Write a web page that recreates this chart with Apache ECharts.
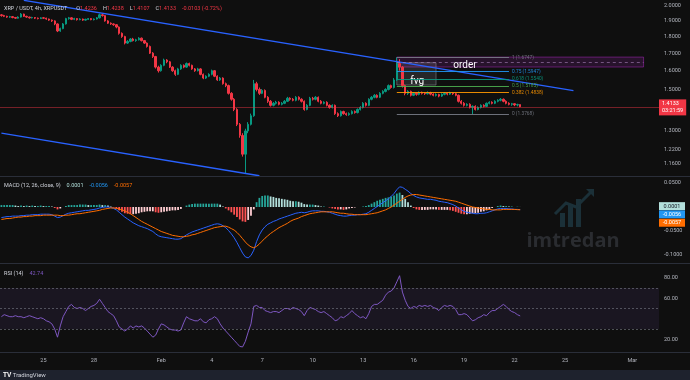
<!DOCTYPE html>
<html><head><meta charset="utf-8">
<script src="https://cdn.jsdelivr.net/npm/echarts@6/dist/echarts.min.js"></script>
<style>html,body{margin:0;padding:0;background:#0f0f0f;}#c{width:690px;height:380px;}</style>
</head><body><div id="c"></div>
<script>
// ---------- DATA ----------
const slotCount = 235; // 4h slots on the time axis (Jan 22 12:00 .. Mar 2)
const xTickSlots = [15, 33, 57, 75, 93, 111, 129, 147, 165, 183, 201, 225];
const xTickLabels = ['25', '28', 'Feb', '4', '7', '10', '13', '16', '19', '22', '25', 'Mar'];
const priceTicks = [2.0, 1.9, 1.8, 1.7, 1.6, 1.5, 1.3, 1.22, 1.16];
const macdTicks = [0.05, -0.05, -0.1];
const rsiTicks = [80, 60, 20];

// [open, close, low, high]
const candles = [
[1.940,1.935,1.928,1.945],[1.935,1.930,1.925,1.940],[1.930,1.925,1.920,1.934],[1.925,1.928,1.920,1.933],
[1.928,1.922,1.917,1.932],[1.922,1.918,1.913,1.926],[1.918,1.925,1.915,1.930],[1.925,1.945,1.922,1.952],
[1.945,1.930,1.926,1.948],[1.930,1.925,1.920,1.934],[1.925,1.920,1.915,1.928],[1.920,1.922,1.916,1.927],
[1.922,1.918,1.912,1.925],[1.918,1.915,1.910,1.922],[1.915,1.920,1.912,1.924],[1.920,1.918,1.913,1.925],
[1.918,1.912,1.907,1.921],[1.912,1.905,1.900,1.915],[1.905,1.900,1.893,1.909],[1.900,1.880,1.872,1.904],
[1.880,1.835,1.828,1.884],[1.835,1.850,1.830,1.856],[1.850,1.880,1.846,1.886],[1.880,1.915,1.876,1.920],
[1.915,1.920,1.908,1.926],[1.920,1.910,1.905,1.924],[1.910,1.915,1.905,1.920],[1.915,1.908,1.902,1.918],
[1.908,1.912,1.904,1.917],[1.912,1.905,1.900,1.915],[1.905,1.910,1.901,1.914],[1.910,1.915,1.906,1.919],
[1.915,1.908,1.904,1.918],[1.908,1.912,1.903,1.916],[1.912,1.920,1.909,1.925],[1.920,1.940,1.916,1.948],
[1.940,1.935,1.928,1.946],[1.935,1.900,1.895,1.938],[1.900,1.885,1.880,1.905],[1.885,1.880,1.874,1.890],
[1.880,1.875,1.868,1.884],[1.875,1.860,1.852,1.879],[1.860,1.820,1.812,1.864],[1.820,1.800,1.792,1.826],
[1.800,1.760,1.752,1.805],[1.760,1.770,1.755,1.778],[1.770,1.785,1.765,1.790],[1.785,1.775,1.770,1.792],
[1.775,1.780,1.768,1.786],[1.780,1.790,1.776,1.796],[1.790,1.775,1.770,1.794],[1.775,1.760,1.755,1.779],
[1.760,1.740,1.733,1.764],[1.740,1.700,1.695,1.745],[1.700,1.680,1.672,1.706],[1.680,1.620,1.612,1.684],
[1.620,1.600,1.590,1.628],[1.600,1.630,1.595,1.636],[1.630,1.660,1.625,1.668],[1.660,1.650,1.642,1.665],
[1.650,1.620,1.615,1.655],[1.620,1.600,1.594,1.625],[1.600,1.580,1.572,1.606],[1.580,1.610,1.576,1.616],
[1.610,1.630,1.605,1.636],[1.630,1.620,1.614,1.635],[1.620,1.640,1.616,1.646],[1.640,1.630,1.624,1.645],
[1.630,1.610,1.605,1.634],[1.610,1.600,1.594,1.615],[1.600,1.610,1.596,1.616],[1.610,1.580,1.575,1.614],
[1.580,1.560,1.554,1.585],[1.560,1.570,1.555,1.575],[1.570,1.580,1.565,1.586],[1.580,1.600,1.575,1.606],
[1.600,1.570,1.565,1.604],[1.570,1.550,1.545,1.575],[1.550,1.560,1.545,1.566],[1.560,1.530,1.525,1.564],
[1.530,1.520,1.512,1.536],[1.520,1.480,1.474,1.525],[1.480,1.450,1.443,1.486],[1.450,1.400,1.392,1.456],
[1.400,1.330,1.322,1.406],[1.330,1.280,1.270,1.336],[1.280,1.200,1.190,1.290],[1.200,1.300,1.124,1.310],
[1.300,1.330,1.290,1.340],[1.330,1.370,1.325,1.380],[1.370,1.530,1.365,1.550],[1.530,1.500,1.490,1.540],
[1.500,1.480,1.472,1.510],[1.480,1.495,1.476,1.502],[1.495,1.460,1.455,1.500],[1.460,1.440,1.432,1.466],
[1.440,1.420,1.414,1.446],[1.420,1.430,1.415,1.436],[1.430,1.435,1.424,1.442],[1.435,1.425,1.420,1.440],
[1.425,1.430,1.420,1.436],[1.430,1.440,1.426,1.446],[1.440,1.455,1.436,1.462],[1.455,1.450,1.443,1.460],
[1.450,1.445,1.440,1.456],[1.445,1.460,1.440,1.466],[1.460,1.450,1.444,1.465],[1.450,1.440,1.434,1.455],
[1.440,1.400,1.394,1.444],[1.400,1.420,1.396,1.426],[1.420,1.455,1.416,1.462],[1.455,1.450,1.444,1.462],
[1.450,1.460,1.445,1.466],[1.460,1.440,1.435,1.464],[1.440,1.430,1.425,1.446],[1.430,1.435,1.425,1.440],
[1.435,1.420,1.415,1.440],[1.420,1.410,1.404,1.425],[1.410,1.420,1.405,1.425],[1.420,1.380,1.374,1.424],
[1.380,1.370,1.364,1.386],[1.370,1.390,1.366,1.395],[1.390,1.380,1.375,1.394],[1.380,1.375,1.370,1.385],
[1.375,1.380,1.370,1.386],[1.380,1.390,1.376,1.396],[1.390,1.385,1.380,1.395],[1.385,1.400,1.381,1.405],
[1.400,1.410,1.395,1.416],[1.410,1.430,1.405,1.436],[1.430,1.420,1.414,1.435],[1.420,1.450,1.416,1.455],
[1.450,1.460,1.445,1.466],[1.460,1.470,1.455,1.476],[1.470,1.460,1.455,1.475],[1.460,1.480,1.456,1.486],
[1.480,1.490,1.475,1.496],[1.490,1.500,1.485,1.506],[1.500,1.520,1.495,1.526],[1.520,1.510,1.504,1.525],
[1.510,1.550,1.505,1.560],[1.550,1.640,1.545,1.6747],[1.640,1.620,1.600,1.665],[1.620,1.520,1.510,1.625],
[1.520,1.480,1.470,1.525],[1.480,1.490,1.472,1.496],[1.490,1.470,1.464,1.494],[1.470,1.480,1.466,1.486],
[1.480,1.475,1.468,1.484],[1.475,1.485,1.470,1.490],[1.485,1.480,1.474,1.489],[1.480,1.478,1.472,1.486],
[1.478,1.484,1.474,1.490],[1.484,1.476,1.470,1.488],[1.476,1.470,1.465,1.480],[1.470,1.474,1.464,1.480],
[1.474,1.466,1.460,1.478],[1.466,1.475,1.462,1.480],[1.475,1.480,1.470,1.486],[1.480,1.476,1.470,1.485],
[1.476,1.482,1.472,1.488],[1.482,1.478,1.472,1.486],[1.478,1.470,1.465,1.482],[1.470,1.440,1.434,1.474],
[1.440,1.430,1.424,1.446],[1.430,1.420,1.414,1.436],[1.420,1.425,1.415,1.430],[1.425,1.410,1.405,1.430],
[1.410,1.415,1.377,1.420],[1.415,1.400,1.395,1.420],[1.400,1.410,1.396,1.415],[1.410,1.420,1.405,1.425],
[1.420,1.415,1.410,1.425],[1.415,1.430,1.412,1.434],[1.430,1.435,1.425,1.440],[1.435,1.430,1.425,1.440],
[1.430,1.440,1.426,1.445],[1.440,1.445,1.435,1.450],[1.445,1.450,1.440,1.456],[1.450,1.440,1.435,1.454],
[1.440,1.430,1.425,1.445],[1.430,1.425,1.420,1.435],[1.425,1.428,1.418,1.432],[1.428,1.422,1.416,1.430],
[1.422,1.4236,1.415,1.428],[1.4236,1.4133,1.4107,1.4238]
];

const macdLine = [
-0.022,-0.021,-0.020,-0.020,-0.019,-0.019,-0.019,-0.018,-0.018,-0.017,-0.017,-0.016,-0.016,-0.016,-0.015,-0.015,
-0.015,-0.015,-0.016,-0.019,-0.022,-0.021,-0.018,-0.015,-0.013,-0.012,-0.011,-0.010,-0.009,-0.008,-0.007,-0.007,
-0.006,-0.005,-0.004,-0.002,-0.001,0.000,0.000,-0.001,-0.003,-0.006,-0.011,-0.016,-0.021,-0.025,-0.029,-0.033,
-0.036,-0.039,-0.041,-0.043,-0.045,-0.048,-0.051,-0.056,-0.060,-0.062,-0.063,-0.064,-0.065,-0.066,-0.067,-0.067,
-0.066,-0.062,-0.058,-0.055,-0.052,-0.050,-0.048,-0.046,-0.044,-0.042,-0.040,-0.038,-0.036,-0.035,-0.036,-0.039,
-0.043,-0.049,-0.056,-0.064,-0.074,-0.085,-0.096,-0.104,-0.106,-0.101,-0.090,-0.072,-0.058,-0.048,-0.041,-0.036,
-0.033,-0.030,-0.028,-0.025,-0.023,-0.021,-0.019,-0.017,-0.015,-0.013,-0.012,-0.011,-0.012,-0.011,-0.009,-0.008,
-0.008,-0.008,-0.009,-0.009,-0.010,-0.011,-0.013,-0.015,-0.017,-0.018,-0.019,-0.019,-0.018,-0.017,-0.017,-0.016,
-0.016,-0.015,-0.014,-0.011,-0.007,-0.003,0.001,0.005,0.009,0.013,0.017,0.022,0.028,0.036,0.042,0.041,
0.037,0.033,0.028,0.024,0.021,0.019,0.018,0.017,0.016,0.016,0.015,0.014,0.012,0.011,0.010,0.009,
0.007,0.005,0.002,-0.002,-0.006,-0.009,-0.011,-0.012,-0.013,-0.014,-0.014,-0.013,-0.013,-0.012,-0.010,-0.008,
-0.006,-0.004,-0.003,-0.003,-0.003,-0.004,-0.004,-0.005,-0.005,-0.0056
];

const signalLine = [
-0.026,-0.025,-0.024,-0.024,-0.023,-0.022,-0.021,-0.021,-0.020,-0.020,-0.019,-0.019,-0.018,-0.018,-0.018,-0.017,
-0.017,-0.017,-0.017,-0.017,-0.017,-0.018,-0.018,-0.017,-0.017,-0.016,-0.015,-0.014,-0.014,-0.013,-0.012,-0.011,
-0.010,-0.009,-0.008,-0.007,-0.005,-0.004,-0.003,-0.002,-0.002,-0.003,-0.004,-0.006,-0.008,-0.011,-0.014,-0.018,
-0.022,-0.026,-0.030,-0.033,-0.036,-0.039,-0.042,-0.045,-0.048,-0.051,-0.053,-0.055,-0.057,-0.059,-0.060,-0.061,
-0.062,-0.062,-0.061,-0.060,-0.058,-0.057,-0.055,-0.053,-0.051,-0.049,-0.047,-0.045,-0.043,-0.042,-0.041,-0.040,
-0.040,-0.042,-0.045,-0.048,-0.053,-0.059,-0.066,-0.073,-0.079,-0.083,-0.085,-0.082,-0.077,-0.071,-0.065,-0.060,
-0.055,-0.051,-0.047,-0.043,-0.040,-0.037,-0.034,-0.030,-0.027,-0.025,-0.023,-0.020,-0.018,-0.016,-0.014,-0.013,
-0.012,-0.011,-0.010,-0.010,-0.010,-0.010,-0.010,-0.011,-0.012,-0.013,-0.013,-0.014,-0.015,-0.015,-0.016,-0.016,
-0.016,-0.016,-0.016,-0.015,-0.014,-0.013,-0.012,-0.010,-0.008,-0.006,-0.003,0.000,0.004,0.008,0.012,0.016,
0.020,0.023,0.025,0.026,0.026,0.025,0.024,0.023,0.022,0.021,0.020,0.019,0.018,0.017,0.016,0.015,
0.014,0.013,0.012,0.010,0.008,0.006,0.004,0.002,0.000,-0.001,-0.002,-0.003,-0.004,-0.005,-0.005,-0.006,
-0.006,-0.006,-0.006,-0.005,-0.005,-0.005,-0.005,-0.005,-0.0055,-0.0057
];

const rsiLine = [
42,44,43,42,42,43,42,42,41,42,43,42,41,40,41,40,38,37,35,30,22,33,42,47,52,54,51,50,51,50,48,50,
52,53,55,59,55,51,47,45,43,38,32,30,28,30,33,31,33,32,33,31,28,25,22,24,30,35,34,32,30,29,29,28,
29,36,42,40,39,38,38,40,37,36,39,40,42,40,35,31,28,25,22,19,16,13,12.5,18,27,35,52,53,51,51,48,47,
46,47,47,46,48,50,50,49,51,50,49,47,43,48,51,50,49,47,46,47,45,43,41,38,39,42,41,43,45,48,45,43,
41,42,40,45,52,54,54,56,58,63,66,67,70,76,82,66,58,52,50,52,51,53,52,53,52,53,51,50,48,51,53,52,
53,52,49,44,44,45,44,41,38,39,41,42,44,43,46,48,48,50,52,54,52,49,47,46,44,42.74
];

const fibRatios = ['1', '0.75', '0.618', '0.5', '0.382', '0'];
const fibPrices = [1.6747, 1.5947, 1.5540, 1.5185, 1.4838, 1.3768];
const fibSpan = [141, 181];                 // slots
const trendUpper = [[8, 2.0397], [204, 1.4935]];   // [slot, price]
const trendLower = [[0, 1.290], [92, 1.114]];
const orderBox = [[141, 1.677], [229, 1.6206], 1.6485]; // corners + mid dashed level
const fvgBox = [[141, 1.6448], [155, 1.523]];
const countdown = '03:21:59';

// ---------- CHART ----------
const categories = Array.from({length: slotCount}, (_, i) => String(i));
const last = candles[candles.length - 1];
const prevClose = candles[candles.length - 2][1];
const lastPrice = last[1];
const hist = macdLine.map((m, i) => +(m - signalLine[i]).toFixed(5));
const histData = hist.map((h, i) => {
  const p = i > 0 ? hist[i - 1] : h;
  let col;
  if (h >= 0) col = h >= p ? '#26a69a' : '#b2dfdb';
  else col = h < p ? '#ff5252' : '#ffcdd2';
  return {value: h, itemStyle: {color: col}};
});

const FONT = 'Roboto, "Liberation Sans", sans-serif';
const AX = '#b2b5be';
const GREEN = '#089981', RED = '#f23645';
const fibColors = ['#787b86', '#2196f3', '#089981', '#4caf50', '#ff9800', '#787b86'];
const L = 0, R = 31;

const chart = echarts.init(document.getElementById('c'), null, {renderer: 'canvas'});

function xAxisFor(idx, showLabels) {
  return {
    type: 'category', gridIndex: idx, data: categories, boundaryGap: true,
    axisLine: {show: false}, axisTick: {show: false}, splitLine: {show: false},
    axisLabel: showLabels ? {
      show: true, color: AX, fontSize: 5.5, fontFamily: FONT, margin: 6,
      interval: (i) => xTickSlots.indexOf(i) >= 0,
      formatter: (v, i) => { const k = xTickSlots.indexOf(Number(v)); return k >= 0 ? xTickLabels[k] : ''; }
    } : {show: false}
  };
}

const option = {
  backgroundColor: '#0f0f0f',
  animation: false,
  textStyle: {fontFamily: FONT},
  grid: [
    {left: L, right: R, top: 0, height: 176},
    {left: L, right: R, top: 177, height: 86},
    {left: L, right: R, top: 264, height: 88}
  ],
  xAxis: [xAxisFor(0, false), xAxisFor(1, false), xAxisFor(2, true)],
  yAxis: [
    {type: 'log', logBase: 10, gridIndex: 0, position: 'right', min: 1.113, max: 2.0418,
     axisLine: {show: false}, axisTick: {show: false}, splitLine: {show: false},
     axisLabel: {customValues: priceTicks, formatter: (v) => Number(v).toFixed(4), color: AX, fontSize: 5.5, margin: 5, align: 'left', fontFamily: FONT}},
    {type: 'value', gridIndex: 1, position: 'right', min: -0.11667, max: 0.0625,
     axisLine: {show: false}, axisTick: {show: false}, splitLine: {show: false},
     axisLabel: {customValues: macdTicks, formatter: (v) => Number(v).toFixed(4), color: AX, fontSize: 5.5, margin: 5, align: 'left', fontFamily: FONT}},
    {type: 'value', gridIndex: 2, position: 'right', min: 7.56, max: 93.41,
     axisLine: {show: false}, axisTick: {show: false}, splitLine: {show: false},
     axisLabel: {customValues: rsiTicks, formatter: (v) => Number(v).toFixed(2), color: AX, fontSize: 5.5, margin: 5, align: 'left', fontFamily: FONT}}
  ],
  series: [
    {
      type: 'candlestick', xAxisIndex: 0, yAxisIndex: 0, data: candles, barWidth: 1.8,
      itemStyle: {color: GREEN, color0: RED, borderColor: GREEN, borderColor0: RED, borderWidth: 1},
      markArea: {
        silent: true,
        data: [
          [{coord: [String(orderBox[0][0]), orderBox[0][1]], name: 'order',
            itemStyle: {color: 'rgba(156,39,176,0.18)', borderColor: 'rgba(156,39,176,0.55)', borderWidth: 1},
            label: {show: true, position: [57, 4], color: '#ffffff', fontSize: 10, fontFamily: FONT}},
           {coord: [String(orderBox[1][0]), orderBox[1][1]]}],
          [{coord: [String(fvgBox[0][0]), fvgBox[0][1]], name: 'fvg',
            itemStyle: {color: 'rgba(160,163,174,0.16)', borderColor: 'rgba(160,163,174,0.45)', borderWidth: 1},
            label: {show: true, position: [14, 14], color: '#ffffff', fontSize: 10, fontFamily: FONT}},
           {coord: [String(fvgBox[1][0]), fvgBox[1][1]]}]
        ]
      },
      markLine: {
        silent: true, symbol: ['none', 'none'],
        data: [
          ...fibPrices.map((p, k) => [
            {coord: [String(fibSpan[0]), p], lineStyle: {color: fibColors[k], width: 1.2, type: 'solid', opacity: 0.9},
             label: {show: true, position: 'end', distance: 3, formatter: fibRatios[k] + ' (' + p.toFixed(4) + ')', color: fibColors[k], fontSize: 4.8, fontFamily: FONT}},
            {coord: [String(fibSpan[1]), p]}
          ]),
          [{coord: [String(orderBox[0][0]), orderBox[2]], lineStyle: {color: 'rgba(180,140,200,0.55)', width: 1, type: [3, 3]}, label: {show: false}},
           {coord: [String(orderBox[1][0]), orderBox[2]]}],
          {yAxis: lastPrice, lineStyle: {color: 'rgba(242,54,69,0.45)', width: 1, type: 'solid'},
           label: {show: true, position: 'end', distance: 0, formatter: lastPrice.toFixed(4) + '\n' + countdown,
                   backgroundColor: RED, color: '#ffffff', fontSize: 5.5, lineHeight: 7, padding: [1, 3, 1, 3], fontFamily: FONT}}
        ]
      }
    },
    {type: 'line', xAxisIndex: 0, yAxisIndex: 0, data: trendUpper.map(p => [String(p[0]), p[1]]),
     symbol: 'none', lineStyle: {color: '#2962ff', width: 1.3}, silent: true, z: 4},
    {type: 'line', xAxisIndex: 0, yAxisIndex: 0, data: trendLower.map(p => [String(p[0]), p[1]]),
     symbol: 'none', lineStyle: {color: '#2962ff', width: 1.3}, silent: true, z: 4},
    {type: 'bar', xAxisIndex: 1, yAxisIndex: 1, data: histData, barWidth: 1.8, silent: true},
    {type: 'line', xAxisIndex: 1, yAxisIndex: 1, data: macdLine, symbol: 'none', lineStyle: {color: '#2962ff', width: 1}, silent: true},
    {type: 'line', xAxisIndex: 1, yAxisIndex: 1, data: signalLine, symbol: 'none', lineStyle: {color: '#ff6d00', width: 1}, silent: true},
    {type: 'line', xAxisIndex: 2, yAxisIndex: 2, data: rsiLine, symbol: 'none', lineStyle: {color: '#7e57c2', width: 1}, silent: true,
     markArea: {silent: true, itemStyle: {color: 'rgba(126,87,194,0.1)'}, data: [[{yAxis: 30}, {yAxis: 70}]]},
     markLine: {silent: true, symbol: ['none', 'none'],
       lineStyle: {color: 'rgba(120,123,134,0.6)', type: [2, 2], width: 1}, label: {show: false},
       data: [{yAxis: 70}, {yAxis: 50}, {yAxis: 30},
              {yAxis: rsiLine[rsiLine.length - 1], lineStyle: {opacity: 0},
               label: {show: true, position: 'end', distance: 0, formatter: rsiLine[rsiLine.length - 1].toFixed(2),
                       backgroundColor: '#7e57c2', color: '#ffffff', fontSize: 5.5, padding: [1, 3, 1, 3], fontFamily: FONT}}]}}
  ]
};
chart.setOption(option);

// ---------- overlay texts ----------
const fmt = (v) => (v >= 0 ? '' : '-') + Math.abs(v).toFixed(4);
const lastHist = hist[hist.length - 1], lastMacd = macdLine[macdLine.length - 1], lastSig = signalLine[signalLine.length - 1];
const yHist = chart.convertToPixel({yAxisIndex: 1}, lastHist);
const gx = 690 - R;
function valBox(y, txt, bg, fg) {
  return {type: 'group', x: gx, y: y - 4, children: [
    {type: 'rect', shape: {x: 0, y: 0, width: 26, height: 8}, style: {fill: bg}},
    {type: 'text', x: 13, y: 4, style: {text: txt, fill: fg, fontSize: 5.5, fontFamily: FONT, align: 'center', verticalAlign: 'middle'}}
  ]};
}
const chg = lastPrice - prevClose;
const graphics = [
  {type: 'rect', shape: {x: 0, y: 176, width: 690, height: 1}, style: {fill: '#2a2e39'}, z: 10},
  {type: 'rect', shape: {x: 0, y: 263, width: 690, height: 1}, style: {fill: '#2a2e39'}, z: 10},
  {type: 'rect', shape: {x: 0, y: 352, width: 690, height: 1}, style: {fill: '#2a2e39'}, z: 10},
  {type: 'rect', shape: {x: 0, y: 370, width: 690, height: 10}, style: {fill: '#1e222d'}, z: 10},
  {type: 'text', x: 3, y: 375, z: 11, style: {text: '{b|TV} TradingView', fill: '#d1d4dc', fontSize: 6, fontFamily: FONT, verticalAlign: 'middle',
     rich: {b: {fontWeight: 'bold', fontSize: 6.5, fill: '#ffffff'}}}},
  {type: 'text', x: 4, y: 8.5, z: 11, style: {
     text: '{g|XRP / USDT, 4h, XRPUSDT}   {g|O}{r|' + last[0].toFixed(4) + '}  {g|H}{r|' + last[3].toFixed(4) + '}  {g|L}{r|' + last[2].toFixed(4) + '}  {g|C}{r|' + last[1].toFixed(4) + '}  {r|' + fmt(chg) + ' (' + (chg / prevClose * 100).toFixed(2) + '%)}',
     verticalAlign: 'middle', fontFamily: FONT,
     rich: {g: {fill: '#d1d4dc', fontSize: 5.5, fontFamily: FONT}, r: {fill: RED, fontSize: 5.5, fontFamily: FONT}}}},
  {type: 'text', x: 4, y: 186, z: 11, style: {
     text: '{g|MACD (12, 26, close, 9)}  {h|' + fmt(lastHist) + '}  {m|' + fmt(lastMacd) + '}  {s|' + fmt(lastSig) + '}',
     verticalAlign: 'middle', fontFamily: FONT,
     rich: {g: {fill: '#d1d4dc', fontSize: 5.5, fontFamily: FONT}, h: {fill: '#b2dfdb', fontSize: 5.5, fontFamily: FONT},
            m: {fill: '#2196f3', fontSize: 5.5, fontFamily: FONT}, s: {fill: '#ff6d00', fontSize: 5.5, fontFamily: FONT}}}},
  {type: 'text', x: 4, y: 273.5, z: 11, style: {
     text: '{g|RSI (14)}  {p|' + rsiLine[rsiLine.length - 1].toFixed(2) + '}', verticalAlign: 'middle', fontFamily: FONT,
     rich: {g: {fill: '#d1d4dc', fontSize: 5.5, fontFamily: FONT}, p: {fill: '#7e57c2', fontSize: 5.5, fontFamily: FONT}}}},
  valBox(yHist - 0.8, fmt(lastHist), '#b2dfdb', '#131722'),
  valBox(yHist + 7.4, fmt(lastMacd), '#2196f3', '#ffffff'),
  valBox(yHist + 15.8, fmt(lastSig), '#ff6d00', '#ffffff'),
  // watermark
  {type: 'text', x: 573, y: 241, z: 1, style: {text: 'imtredan', fill: '#2a2c30', fontSize: 20, fontWeight: 'bold', fontFamily: '"Open Sans", sans-serif', align: 'center', verticalAlign: 'middle'}},
  {type: 'group', z: 1, children: [
    {type: 'rect', shape: {x: 560, y: 213, width: 5, height: 14}, style: {fill: '#1b3038'}},
    {type: 'rect', shape: {x: 568, y: 205, width: 5, height: 22}, style: {fill: '#1b3038'}},
    {type: 'rect', shape: {x: 576, y: 199, width: 5, height: 28}, style: {fill: '#1b3038'}},
    {type: 'polyline', shape: {points: [[555, 214], [566, 203], [576, 207], [592, 191]]}, style: {stroke: '#1b3038', lineWidth: 3, fill: null}},
    {type: 'polygon', shape: {points: [[586, 189], [594, 189], [594, 197]]}, style: {fill: '#1b3038'}}
  ]}
];
chart.setOption({graphic: graphics});
</script>
</body></html>
